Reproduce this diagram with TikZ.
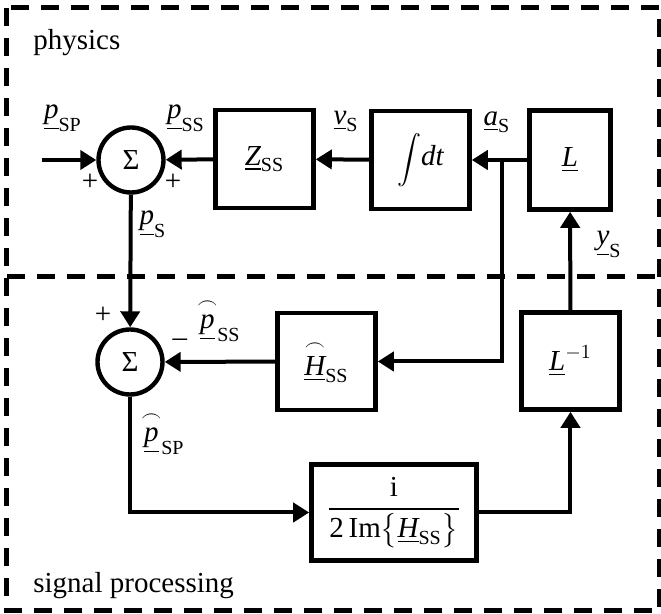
\documentclass[tikz,border=0pt]{standalone}
\usepackage{amsmath}
\usepackage{fontspec}
\setmainfont{Liberation Serif}
\usetikzlibrary{arrows.meta}
\DeclareMathSizes{14.5}{14.5}{10}{8}
\newcommand{\mv}[1]{\text{\itshape #1}}
\newcommand{\sig}[2]{$\underline{\mv{#1}}_{\text{#2}}$}
\newcommand{\est}[2]{$\overset{\frown}{\underline{\mv{#1}}}_{\text{#2}}$}

\begin{document}
\begin{tikzpicture}[x=0.5pt,y=-0.5pt,font=\fontsize{14.5}{17}\selectfont,
  blk/.style={draw,line width=2.3pt,minimum width=49pt,minimum height=49pt,inner sep=1pt},
  sum/.style={draw,circle,line width=2.2pt,minimum size=32.5pt,inner sep=0pt},
  ar/.style={-{Triangle[length=8pt,width=9.5pt]},line width=2pt},
  bd/.style={line width=2.5pt,dash pattern=on 9pt off 6pt}]
\useasboundingbox (0,0) rectangle (661,614);
\draw[bd] (7,8) rectangle (660,611);
\draw[bd] (7,277) -- (660,277);
\node[anchor=base west,inner sep=0pt] (tphys) at (33,50) {physics};
\node[anchor=base west,inner sep=0pt] (tsig) at (33,593) {signal processing};
% physics part
\node[sum] (s1) at (131,160) {Σ};
\node[blk] (zss) at (264.5,159) {\sig{Z}{SS}};
\node[blk] (int) at (420.5,160) {{\fontsize{12}{14}\selectfont$\displaystyle\int$}\mv{dt}};
\node[blk,minimum width=40.5pt,minimum height=49.5pt] (lop) at (570,160) {$\underline{\mv{L}}$};
\coordinate (in) at (42,160);
\coordinate (br) at (502,160);
% signal processing part
\node[sum] (s2) at (130,362) {Σ};
\node[blk,minimum height=48.5pt] (hss) at (326.5,361.5) {\est{H}{SS}};
\node[blk,minimum height=48.5pt] (linv) at (570.5,361) {$\underline{\mv{L}}^{-1}$};
\node[blk,minimum width=82.5pt,minimum height=48pt] (frac) at (394,512.5)
  {$\dfrac{\text{i}}{\text{2\,Im}\bigl\{\underline{\mv{H}}_{\text{SS}}\bigr\}}$};
% connectors
\draw[ar] (in) -- (s1);
\draw[ar] (zss) -- (s1);
\draw[ar] (int) -- (zss);
\draw[ar] (lop) -- (int);
\draw[ar] (br) |- (hss);
\draw[ar] (linv) -- (lop);
\draw[ar] (hss) -- (s2);
\draw[ar] (s1) -- (s2);
\draw[ar] (s2) |- (frac);
\draw[ar] (frac) -| (linv);
% labels
\node (lpsp) at (63,118) {\sig{p}{SP}};
\node (lpss) at (186,118) {\sig{p}{SS}};
\node (lps) at (153,224) {\sig{p}{S}};
\node (lvs) at (346,121) {\sig{v}{S}};
\node (las) at (497,122) {\sig{a}{S}};
\node (lys) at (609,244) {\sig{y}{S}};
\node (lhpss) at (219,320) {\est{p}{SS}};
\node (lhpsp) at (163,433) {\est{p}{SP}};
\node (pa) at (90,182) {+};
\node (pb) at (173,182) {+};
\node (pc) at (103,315) {+};
\node (mc) at (180,343) {–};
\end{tikzpicture}
\end{document}
